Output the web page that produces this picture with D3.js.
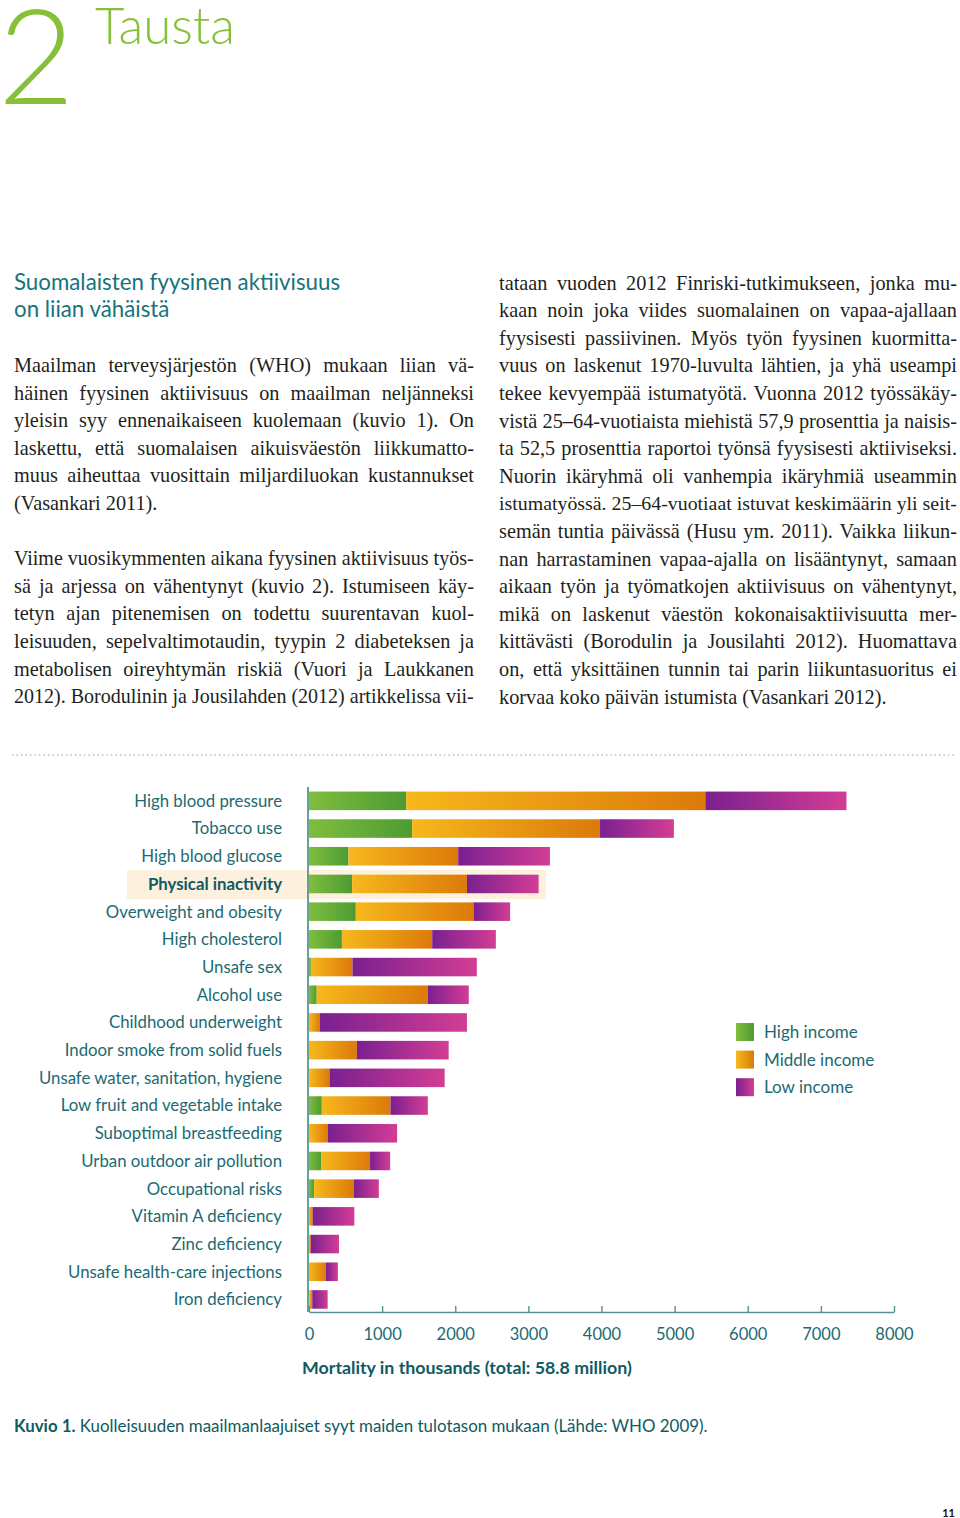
<!DOCTYPE html>
<html>
<head>
<meta charset="utf-8">
<script src="https://cdn.jsdelivr.net/npm/d3@7/dist/d3.min.js"></script>
<style>
html,body{margin:0;padding:0;background:#fff;}
svg{display:block;}
</style>
</head>
<body>
<svg id="page" width="960" height="1518"></svg>
<script>
// ---------- DATA ----------
const categories = [
  "High blood pressure","Tobacco use","High blood glucose","Physical inactivity",
  "Overweight and obesity","High cholesterol","Unsafe sex","Alcohol use",
  "Childhood underweight","Indoor smoke from solid fuels","Unsafe water, sanitation, hygiene",
  "Low fruit and vegetable intake","Suboptimal breastfeeding","Urban outdoor air pollution",
  "Occupational risks","Vitamin A deficiency","Zinc deficiency","Unsafe health-care injections",
  "Iron deficiency"
];
const highIncome   = [1330,1410,540,590,640,450,25,105,0,0,5,175,0,170,70,0,0,0,5];
const middleIncome = [4090,2570,1500,1570,1610,1235,570,1520,150,655,275,940,255,665,545,50,25,230,40];
const lowIncome    = [1930,1010,1255,980,500,870,1700,560,2010,1255,1575,510,950,275,340,570,385,165,210];
const seriesNames  = ["High income","Middle income","Low income"];
const xTicks       = [0,1000,2000,3000,4000,5000,6000,7000,8000];
const highlighted  = "Physical inactivity";

const leftLines = [
  {t:"Maailman terveysjärjestön (WHO) mukaan liian vä-", j:1},
  {t:"häinen fyysinen aktiivisuus on maailman neljänneksi", j:1},
  {t:"yleisin syy ennenaikaiseen kuolemaan (kuvio 1). On", j:1},
  {t:"laskettu, että suomalaisen aikuisväestön liikkumatto-", j:1},
  {t:"muus aiheuttaa vuosittain miljardiluokan kustannukset", j:1},
  {t:"(Vasankari 2011).", j:0},
  {t:"", j:0},
  {t:"Viime vuosikymmenten aikana fyysinen aktiivisuus työs-", j:1},
  {t:"sä ja arjessa on vähentynyt (kuvio 2). Istumiseen käy-", j:1},
  {t:"tetyn ajan pitenemisen on todettu suurentavan kuol-", j:1},
  {t:"leisuuden, sepelvaltimotaudin, tyypin 2 diabeteksen ja", j:1},
  {t:"metabolisen oireyhtymän riskiä (Vuori ja Laukkanen", j:1},
  {t:"2012). Borodulinin ja Jousilahden (2012) artikkelissa vii-", j:1}
];
const rightLines = [
  {t:"tataan vuoden 2012 Finriski-tutkimukseen, jonka mu-", j:1},
  {t:"kaan noin joka viides suomalainen on vapaa-ajallaan", j:1},
  {t:"fyysisesti passiivinen. Myös työn fyysinen kuormitta-", j:1},
  {t:"vuus on laskenut 1970-luvulta lähtien, ja yhä useampi", j:1},
  {t:"tekee kevyempää istumatyötä. Vuonna 2012 työssäkäy-", j:1},
  {t:"vistä 25–64-vuotiaista miehistä 57,9 prosenttia ja naisis-", j:1},
  {t:"ta 52,5 prosenttia raportoi työnsä fyysisesti aktiiviseksi.", j:1},
  {t:"Nuorin ikäryhmä oli vanhempia ikäryhmiä useammin", j:1},
  {t:"istumatyössä. 25–64-vuotiaat istuvat keskimäärin yli seit-", j:1},
  {t:"semän tuntia päivässä (Husu ym. 2011). Vaikka liikun-", j:1},
  {t:"nan harrastaminen vapaa-ajalla on lisääntynyt, samaan", j:1},
  {t:"aikaan työn ja työmatkojen aktiivisuus on vähentynyt,", j:1},
  {t:"mikä on laskenut väestön kokonaisaktiivisuutta mer-", j:1},
  {t:"kittävästi (Borodulin ja Jousilahti 2012). Huomattava", j:1},
  {t:"on, että yksittäinen tunnin tai parin liikuntasuoritus ei", j:1},
  {t:"korvaa koko päivän istumista (Vasankari 2012).", j:0}
];

// ---------- STYLE ----------
const SANS = "Lato, 'Open Sans', sans-serif";
const SERIF = "'Liberation Serif', 'DejaVu Serif', serif";
const GREEN = "#86c03a";
const TEAL = "#1b6a72";
const TEAL_DARK = "#0f5a63";
const BODY_FS = 20.3;

const svg = d3.select("#page");
const defs = svg.append("defs");
const grads = [
  {id:"gHigh", c0:"#7fbd3d", c1:"#4d9b33"},
  {id:"gMid",  c0:"#f6b81c", c1:"#dc7a0a"},
  {id:"gLow",  c0:"#7a2090", c1:"#d33d94"}
];
grads.forEach(g=>{
  const lg = defs.append("linearGradient").attr("id",g.id).attr("x1","0").attr("x2","1").attr("y1","0").attr("y2","0");
  lg.append("stop").attr("offset","0").attr("stop-color",g.c0);
  lg.append("stop").attr("offset","1").attr("stop-color",g.c1);
});

// ---------- HEADER ----------
svg.append("text").attr("x",-2).attr("y",104).attr("font-family",SANS).attr("font-weight",300)
  .attr("font-size",132).attr("fill",GREEN).text("2");
svg.append("text").attr("x",95).attr("y",44).attr("font-family",SANS).attr("font-weight",300)
  .attr("font-size",51).attr("fill",GREEN).text("Tausta");

svg.append("text").attr("x",14).attr("y",290).attr("font-family",SANS).attr("font-size",22.3)
  .attr("fill","#16737c").text("Suomalaisten fyysinen aktiivisuus");
svg.append("text").attr("x",14).attr("y",317).attr("font-family",SANS).attr("font-size",22.3)
  .attr("fill","#16737c").text("on liian vähäistä");

function drawLines(lines, x, y0, lh, width){
  lines.forEach((l,i)=>{
    if(!l.t) return;
    const t = svg.append("text").attr("x",x).attr("y",y0+i*lh)
      .attr("font-family",SERIF).attr("font-size",BODY_FS).attr("fill","#231f20").text(l.t);
    if(l.j){
      const w = t.node().getComputedTextLength();
      const n = (l.t.match(/ /g)||[]).length;
      if(w > width){
        t.attr("font-size", BODY_FS*(width-0.5)/w);
      } else if(n){
        t.style("word-spacing", ((width-w)/n)+"px");
      }
    }
  });
}
drawLines(leftLines, 14, 372, 27.6, 460);
drawLines(rightLines, 499, 289.5, 27.6, 458);

// dotted separator
svg.append("line").attr("x1",12).attr("x2",955).attr("y1",755).attr("y2",755)
  .attr("stroke","#b5b5b5").attr("stroke-width",1.3).attr("stroke-dasharray","1.3,3.2");

// ---------- CHART ----------
const x = d3.scaleLinear().domain([0,8000]).range([309,894]);
const y = d3.scaleBand().domain(categories).range([787,1313.3]).paddingInner(0.33).paddingOuter(0.165);

const stackData = categories.map((c,i)=>({cat:c, vals:[highIncome[i],middleIncome[i],lowIncome[i]]}));

// highlight band
const hy = y(highlighted) - y.step()*0.165;
svg.append("rect").attr("x",127).attr("y",hy).attr("width",419).attr("height",y.step()*1.05)
  .attr("fill","#fdf0dc");

// labels
svg.append("g").selectAll("text").data(categories).join("text")
  .attr("x",282).attr("y",d=>y(d)+y.bandwidth()/2).attr("dy","0.35em")
  .attr("text-anchor","end").attr("font-family",SANS).attr("font-size",16.8)
  .attr("font-weight",d=>d===highlighted?700:400)
  .attr("fill",d=>d===highlighted?TEAL_DARK:TEAL).text(d=>d);

// bars
const gBars = svg.append("g");
stackData.forEach(d=>{
  let acc = 0;
  d.vals.forEach((v,k)=>{
    if(v>0){
      gBars.append("rect").attr("x",x(acc)).attr("y",y(d.cat))
        .attr("width",x(acc+v)-x(acc)).attr("height",y.bandwidth())
        .attr("fill",`url(#${grads[k].id})`);
    }
    acc += v;
  });
});

// axes
const axisY = 1312;
const xAxis = d3.axisBottom(x).tickValues(xTicks).tickSize(-6).tickSizeOuter(0).tickPadding(16).tickFormat(d3.format("d"));
const gx = svg.append("g").attr("transform",`translate(0,${axisY})`).call(xAxis);
gx.select(".domain").attr("stroke","#5b8f93").attr("stroke-width",1.6);
gx.selectAll(".tick line").attr("stroke","#5b8f93").attr("stroke-width",1.4);
gx.selectAll(".tick text").attr("font-family",SANS).attr("font-size",16.5).attr("fill",TEAL);
svg.append("line").attr("x1",308).attr("x2",308).attr("y1",787).attr("y2",axisY)
  .attr("stroke","#3f8a80").attr("stroke-width",1.6);

svg.append("text").attr("x",302).attr("y",1374).attr("font-family",SANS).attr("font-weight",700)
  .attr("font-size",17.8).attr("fill",TEAL_DARK).text("Mortality in thousands (total: 58.8 million)");

// legend
const lg = svg.append("g").attr("transform","translate(736,1023)");
seriesNames.forEach((s,i)=>{
  lg.append("rect").attr("x",0).attr("y",i*27.6).attr("width",18).attr("height",18).attr("fill",`url(#${grads[i].id})`);
  lg.append("text").attr("x",28).attr("y",i*27.6+9).attr("dy","0.35em").attr("font-family",SANS)
    .attr("font-size",17).attr("fill",TEAL).text(s);
});

// caption
const cap = svg.append("text").attr("x",14).attr("y",1432).attr("font-family",SANS).attr("font-size",16.9).attr("fill",TEAL_DARK);
cap.append("tspan").attr("font-weight",700).text("Kuvio 1.");
cap.append("tspan").text(" Kuolleisuuden maailmanlaajuiset syyt maiden tulotason mukaan (Lähde: WHO 2009).");

// page number
svg.append("text").attr("x",955).attr("y",1517).attr("text-anchor","end").attr("font-family",SANS)
  .attr("font-weight",700).attr("font-size",11).attr("fill","#111").text("11");
</script>
</body>
</html>
